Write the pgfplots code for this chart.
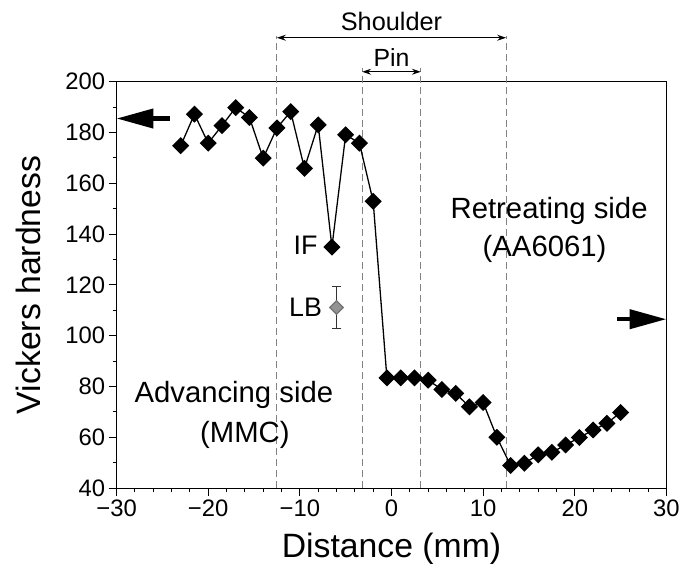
\documentclass[border=0pt]{standalone}
\usepackage{pgfplots}
\pgfplotsset{compat=1.18}
\usepackage{fontspec}
\setmainfont{Liberation Sans}
\usetikzlibrary{arrows.meta}
\definecolor{dashgray}{RGB}{130,130,130}
\begin{document}
\begin{tikzpicture}
\begin{axis}[
  scale only axis, width=552bp, height=408bp,
  xmin=-30, xmax=30, ymin=40, ymax=200,
  xtick={-30,-20,-10,0,10,20,30},
  xticklabels={−30,−20,−10,0,10,20,30},
  ytick={40,60,...,200},
  minor x tick num=4, minor y tick num=1,
  axis line style={line width=1.2bp},
  tick style={line width=1bp, black},
  tick align=outside, xtick pos=bottom, ytick pos=left,
  major tick length=8bp, minor tick length=4bp,
  ticklabel style={font=\fontsize{24}{27}\selectfont},
  /pgf/number format/assume math mode=true,
  xlabel={Distance (mm)}, ylabel={Vickers hardness},
  label style={font=\fontsize{34}{38}\selectfont},
  xlabel style={at={(axis description cs:0.5,-0.15)}, anchor=center},
  ylabel style={at={(axis description cs:-0.16,0.5)}, anchor=center},
  clip=false,
]
% tool zones
\draw[dashgray, line width=1bp, dash pattern=on 7bp off 4bp] (axis cs:-12.5,40) -- (axis cs:-12.5,218);
\draw[dashgray, line width=1bp, dash pattern=on 7bp off 4bp] (axis cs:12.5,40) -- (axis cs:12.5,218);
\draw[dashgray, line width=1bp, dash pattern=on 7bp off 4bp] (axis cs:-3.2,40) -- (axis cs:-3.2,205.5);
\draw[dashgray, line width=1bp, dash pattern=on 7bp off 4bp] (axis cs:3.2,40) -- (axis cs:3.2,205.5);
\draw[line width=1bp, {Stealth[length=9bp,width=6bp]}-{Stealth[length=9bp,width=6bp]}] (axis cs:-12.5,217.3) -- (axis cs:12.5,217.3);
\draw[line width=1bp, {Stealth[length=9bp,width=6bp]}-{Stealth[length=9bp,width=6bp]}] (axis cs:-3.2,203.9) -- (axis cs:3.2,203.9);
\node[font=\fontsize{25.5}{28}\selectfont] at (axis cs:0,223.6) {Shoulder};
\node[font=\fontsize{25}{28}\selectfont] at (axis cs:0,209.6) {Pin};

\addplot[black, line width=1.3bp, mark=square*, mark size=5.4bp, mark options={rotate=45, solid, fill=black}] coordinates {
(-23,174.8) (-21.5,187.2) (-20,175.8) (-18.5,182.7) (-17,189.8) (-15.5,185.9)
(-14,169.9) (-12.5,181.8) (-11,188.2) (-9.5,165.9) (-8,183) (-6.5,134.9)
(-5,179.1) (-3.5,175.8) (-2,152.9)
(-0.5,83.4) (1,83.4) (2.5,83.4) (4,82.5) (5.5,78.8) (7,77.3) (8.5,72.0)
(10,73.7) (11.5,60) (13,48.9) (14.5,49.8) (16,53.1) (17.5,54.1) (19,57)
(20.5,59.9) (22,62.9) (23.5,65.5) (25,69.8)
};
\addplot[black, line width=1.2bp, only marks, mark=square*, mark size=4.8bp,
  mark options={rotate=45, fill=gray!85, draw=black!55},
  error bars/.cd, y dir=both, y explicit,
  error bar style={line width=1bp, black!80}, error mark options={rotate=90, mark size=5bp, line width=1bp, black!80}]
  coordinates {(-6,111.1) +- (0,8.4)};

\node[anchor=east, font=\fontsize{27}{30}\selectfont] at (axis cs:-7.7,135.5) {IF};
\node[anchor=east, font=\fontsize{27}{30}\selectfont] at (axis cs:-7.2,111.3) {LB};
\node[font=\fontsize{29.5}{32}\selectfont] at (axis cs:17.2,149.2) {Retreating side};
\node[font=\fontsize{29.5}{32}\selectfont] at (axis cs:16.7,134.2) {(AA6061)};
\node[font=\fontsize{29.5}{32}\selectfont] at (axis cs:-17.2,76.5) {Advancing side};
\node[font=\fontsize{29.5}{32}\selectfont] at (axis cs:-16,60.8) {(MMC)};

\draw[line width=4.3bp, -{Triangle[length=37bp,width=19bp]}] (axis cs:-24.2,185.5) -- (axis cs:-30,185.5);
\draw[line width=4.3bp, -{Triangle[length=37bp,width=19bp]}] (axis cs:24.6,106.5) -- (axis cs:30,106.5);
\end{axis}
\path (current axis.south west) ++(-117bp,-85bp) (current axis.north east) ++(13bp,82bp);
\end{tikzpicture}
\end{document}
